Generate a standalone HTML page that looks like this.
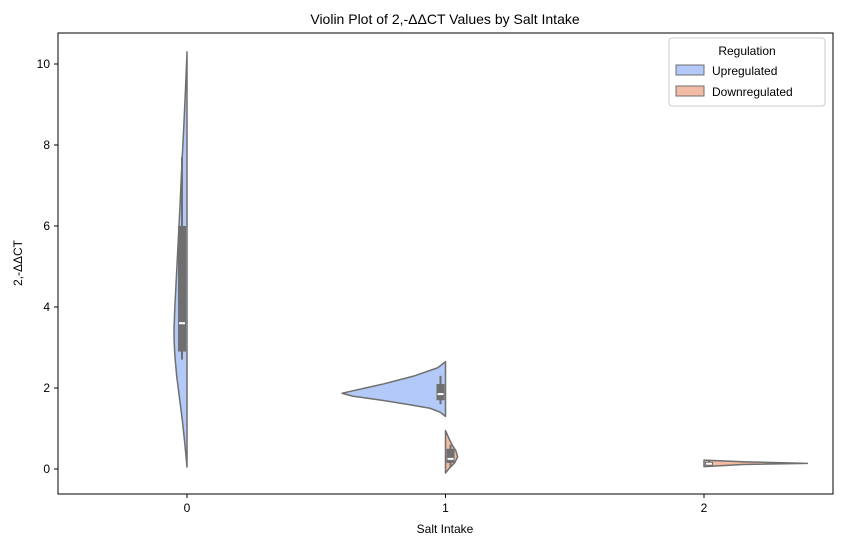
<!DOCTYPE html>
<html><head><meta charset="utf-8"><style>
body{margin:0;background:#fff;font-family:"Liberation Sans","DejaVu Sans",sans-serif}
svg text{font-family:"Liberation Sans","DejaVu Sans",sans-serif;fill:#000}
</style></head><body>
<svg id="c" width="841" height="547" xmlns="http://www.w3.org/2000/svg">
<text x="445" y="24" font-size="14" text-anchor="middle">Violin Plot of 2,-ΔΔCT Values by Salt Intake</text>
<g id="plot"></g>
<rect x="58" y="33" width="775" height="461" fill="none" stroke="#000" stroke-width="1"/>
<text x="445" y="533" font-size="12" text-anchor="middle">Salt Intake</text>
<text transform="translate(22,263) rotate(-90)" font-size="12" text-anchor="middle">2,-ΔΔCT</text>
<g>
<rect x="669" y="38" width="156" height="68" rx="3" fill="#fff" stroke="#ccc"/>
<text x="747" y="55" font-size="12" text-anchor="middle">Regulation</text>
<g><rect x="676" y="65" width="28" height="10" fill="#b3c9f7" stroke="#6f6f6f"/><text x="712" y="75" font-size="12">Upregulated</text></g>
<g><rect x="676" y="86" width="28" height="10" fill="#f2bba3" stroke="#6f6f6f"/><text x="712" y="96" font-size="12">Downregulated</text></g>
</g>
</svg>
<script>
const categories=["0","1","2"];
const yTicks=[0,2,4,6,8,10];
// densities: [value, halfwidth fraction of category spacing]
const up0Vals=[10.3,9.5,8.5,7.5,6.5,5.5,4.5,4.0,3.5,3.2,2.8,2.3,1.8,1.2,0.6,0.05];
const up0Wid=[0,0.005,0.012,0.02,0.027,0.035,0.043,0.047,0.05,0.05,0.047,0.04,0.03,0.018,0.008,0];
const up1Vals=[2.65,2.5,2.3,2.1,2.0,1.9,1.87,1.8,1.7,1.6,1.5,1.4,1.3];
const up1Wid=[0,0.03,0.12,0.24,0.31,0.38,0.4,0.36,0.25,0.15,0.06,0.02,0];
const dn1Vals=[0.95,0.8,0.6,0.45,0.3,0.15,0.0,-0.1];
const dn1Wid=[0,0.01,0.025,0.04,0.047,0.035,0.012,0];
const dn2Vals=[0.22,0.18,0.14,0.11,0.06];
const dn2Wid=[0,0.15,0.4,0.15,0];
const boxes=[ // cat, side, q1, q3, median, wlo, whi
 [0,-1,2.9,6.0,3.6,2.7,7.7],[1,-1,1.7,2.1,1.85,1.6,2.3],[1,1,0.15,0.5,0.25,0.05,0.6],[2,1,0.08,0.18,0.13,0.08,0.2]];
const X0=187,DX=258.5,Y0=469,DY=40.5;
const xs=c=>X0+c*DX, ys=v=>Y0-v*DY;
const ns="http://www.w3.org/2000/svg",g=document.getElementById('plot'),svg=document.getElementById('c');
function mk(t,a,p){const e=document.createElementNS(ns,t);for(const k in a)e.setAttribute(k,a[k]);(p||g).appendChild(e);return e;}
yTicks.forEach(v=>{mk('line',{x1:54,x2:58,y1:ys(v),y2:ys(v),stroke:'#000'},svg);
 const t=mk('text',{x:50,y:ys(v)+4,'font-size':12,'text-anchor':'end'},svg);t.textContent=v;
 
 });
categories.forEach((c,i)=>{mk('line',{x1:xs(i),x2:xs(i),y1:494,y2:498,stroke:'#000'},svg);
 const t=mk('text',{x:xs(i),y:512,'font-size':12,'text-anchor':'middle'},svg);t.textContent=c;
 
 });
function violin(cat,side,vals,wid,fill,name){
 let d='M'+xs(cat)+','+ys(vals[0]);
 vals.forEach((v,i)=>{d+=' L'+(xs(cat)+side*wid[i]*DX)+','+ys(v);});
 d+=' L'+xs(cat)+','+ys(vals[vals.length-1])+' Z';
 const p=mk('path',{d:d,fill:fill,stroke:'#6f6f6f','stroke-width':1.5,'stroke-linejoin':'round'});
 
 }
violin(0,-1,up0Vals,up0Wid,'#b3c9f7','violin-0-upregulated');
violin(1,-1,up1Vals,up1Wid,'#b3c9f7','violin-1-upregulated');
violin(1,1,dn1Vals,dn1Wid,'#f2bba3','violin-1-downregulated');
violin(2,1,dn2Vals,dn2Wid,'#f2bba3','violin-2-downregulated');
boxes.forEach(b=>{const cx=xs(b[0])+b[1]*5;
 const w=mk('line',{x1:cx,x2:cx,y1:ys(b[5]),y2:ys(b[6]),stroke:'#6f6f6f','stroke-width':2});
 
 
 const r=mk('rect',{x:cx-4,y:ys(b[3]),width:8,height:ys(b[2])-ys(b[3]),fill:'#6f6f6f'});
 
 
 const m=mk('line',{x1:cx-3,x2:cx+3,y1:ys(b[4]),y2:ys(b[4]),stroke:'#fff','stroke-width':2});
 
 });
</script>
</body></html>
